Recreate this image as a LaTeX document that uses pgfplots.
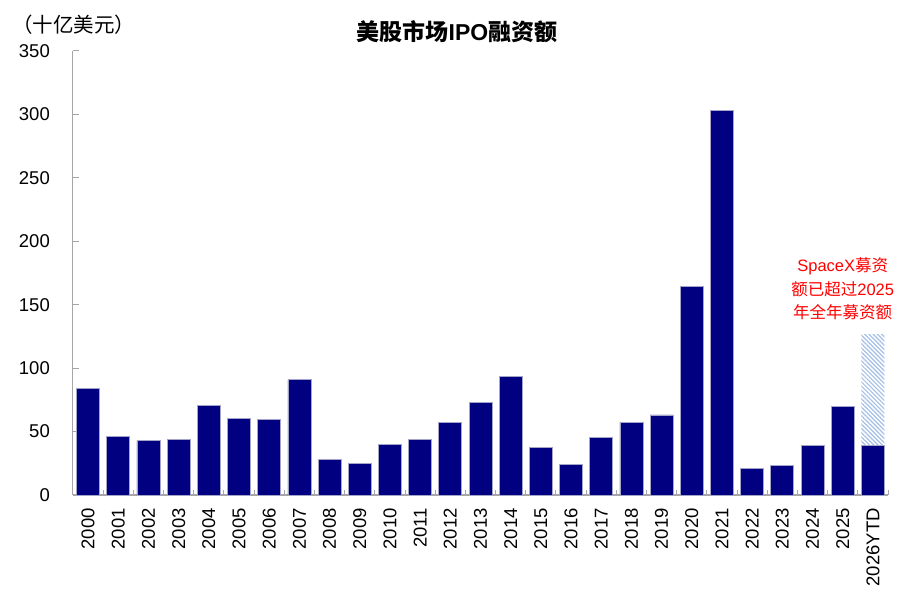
\documentclass[border=0pt]{standalone}
\usepackage{pgfplots}
\pgfplotsset{compat=1.18}
\usepackage{pgfplotstable}
\usetikzlibrary{patterns.meta}
\usepackage{fontspec}
\setmainfont{Liberation Sans}
\newfontfamily\cjk{Noto Sans CJK SC}

\definecolor{barnavy}{HTML}{000080}
\definecolor{baredge}{HTML}{A4A4C8}
\definecolor{hatchblue}{HTML}{A3BFE6}
\definecolor{axisgray}{HTML}{A6A6A6}
\definecolor{notered}{HTML}{FF0000}

% US IPO proceeds by year (billion USD); "extra" is the SpaceX portion stacked on 2026 YTD
\pgfplotstableread{
x  val   extra
0  84    0
1  46    0
2  42.8  0
3  44.1  0
4  70.7  0
5  60.2  0
6  59.7  0
7  90.9  0
8  28.1  0
9  24.7  0
10 40.2  0
11 44.1  0
12 57.3  0
13 72.8  0
14 93.3  0
15 37.8  0
16 23.9  0
17 45.5  0
18 57.3  0
19 63.1  0
20 164.2 0
21 303.3 0
22 21    0
23 23.4  0
24 38.9  0
25 69.6  0
26 39.4  87.5
}\ipo

\begin{document}
\begin{tikzpicture}
\useasboundingbox (0pt,0pt) rectangle (918pt,598pt);
\begin{axis}[
  at={(73pt,103pt)}, anchor=south west,
  scale only axis, width=815pt, height=444pt,
  xmin=-0.5, xmax=26.5, ymin=0, ymax=350,
  ybar stacked, bar width=23pt,
  xtick={0,...,26},
  xticklabels={2000,2001,2002,2003,2004,2005,2006,2007,2008,2009,2010,2011,2012,2013,2014,2015,2016,2017,2018,2019,2020,2021,2022,2023,2024,2025,2026YTD},
  minor xtick={-0.5,0.5,...,26.5},
  ytick={0,50,...,350},
  tick align=inside,
  major tick length=6pt, minor tick length=5pt,
  major x tick style={draw=none},
  tick style={axisgray, line width=1pt},
  axis x line*=bottom, axis y line*=left,
  x axis line style={axisgray, line width=1.6pt},
  y axis line style={axisgray, line width=1pt},
  tick label style={font=\fontsize{18.5}{18.5}\selectfont},
  /pgf/number format/assume math mode=true,
  yticklabel style={anchor=east, inner sep=0pt, xshift=-23pt},
  xticklabel style={anchor=east, inner sep=0pt, yshift=-13pt, rotate=90},
  clip=false,
]
\addplot[fill=barnavy, draw=baredge, line width=0.75pt] table[x=x, y=val] {\ipo};
\addplot[draw=none, pattern={Lines[angle=-45, distance=3pt, line width=1.2pt]}, pattern color=hatchblue] table[x=x, y=extra] {\ipo};
\node[text=notered, align=center, font=\fontsize{16.5}{23.5}\selectfont] at (axis cs:25,162.4)
  {SpaceX{\cjk 募资}\\{\cjk 额已超过}2025\\{\cjk 年全年募资额}};
\end{axis}
\node[font=\cjk\fontsize{20.5}{20.5}\selectfont] at (74pt,573pt) {（十亿美元）};
\node[font=\fontsize{23}{23}\selectfont\bfseries] at (457pt,566pt)
  {{\cjk 美股市场}IPO{\cjk 融资额}};
\end{tikzpicture}
\end{document}
